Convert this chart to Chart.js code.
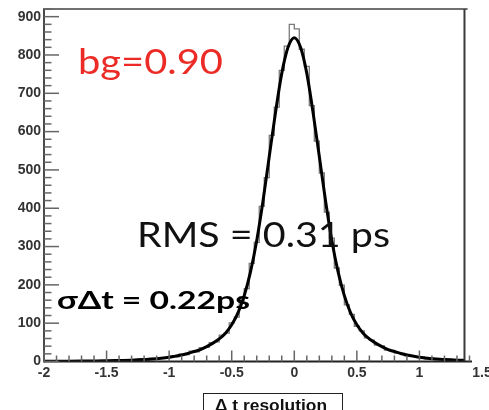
<!DOCTYPE html>
<html>
<head>
<meta charset="utf-8">
<script src="https://cdn.jsdelivr.net/npm/chart.js@4.4.1/dist/chart.umd.min.js"></script>
<style>
  html, body { margin: 0; padding: 0; background: #fff; }
  canvas { display: block; background: #fff; }
</style>
</head>
<body>
<canvas id="c" width="489" height="410"></canvas>
<script>
// Δt resolution histogram: 0.04-wide bins starting at -2
const binStart = -2;
const binWidth = 0.04;
const counts = [
  0, 1, 0, 1, 0, 2, 1, 0, 1, 2,
  1, 3, 1, 2, 4, 2, 3, 5, 3, 6,
  4, 8, 6, 10, 9, 14, 12, 19, 18, 27,
  25, 36, 37, 49, 51, 69, 74, 101, 116, 158,
  190, 256, 311, 405, 480, 590, 664, 760, 823, 880,
  868, 815, 770, 668, 575, 492, 390, 322, 244, 199,
  148, 123, 92, 80, 62, 56, 43, 41, 30, 29,
  22, 21, 15, 16, 11, 12, 7, 8, 5, 6,
  3, 4, 2, 4
];

// fitted resolution function
const fitX = [
  -2.0, -1.9, -1.8, -1.7, -1.6, -1.5, -1.4, -1.3, -1.2, -1.1,
  -1.0, -0.95, -0.9, -0.85, -0.8, -0.75, -0.7, -0.65, -0.6, -0.55,
  -0.5, -0.45, -0.4, -0.35, -0.3, -0.25, -0.2, -0.15, -0.1, -0.05,
  0,
  0.05, 0.1, 0.15, 0.2, 0.25, 0.3, 0.35, 0.4, 0.45, 0.5,
  0.55, 0.6, 0.65, 0.7, 0.75, 0.8, 0.85, 0.9, 0.95, 1.0,
  1.1, 1.2, 1.3, 1.36
];
const fitY = [
  0.4, 0.6, 0.8, 1.05, 1.35, 1.7, 2.5, 3.4, 5, 7.2,
  11, 14, 17, 21, 26, 31, 39, 48, 59, 74,
  96, 127, 172, 234, 316, 419, 535, 650, 752, 820,
  845,
  820, 752, 650, 535, 419, 316, 234, 172, 127, 96,
  74, 59, 48, 39, 31, 26, 21, 17, 14, 11,
  7.2, 5, 3.4, 3
];

const xTicks = [-2, -1.5, -1, -0.5, 0, 0.5, 1, 1.5];
const yTicks = [0, 100, 200, 300, 400, 500, 600, 700, 800, 900];
const xMinorStep = 0.1;
const yMinorStep = 20;

// frame extents (axis units)
const xAxisEnd = 1.42;
const frameRight = 1.36;
const frameTopEnd = 1.385;

const histPoints = counts.map((v, i) => ({ x: Math.round((binStart + i * binWidth) * 100) / 100, y: v }));
histPoints.push({ x: Math.round((binStart + counts.length * binWidth) * 100) / 100, y: counts[counts.length - 1] });
const fitPoints = fitX.map((v, i) => ({ x: v, y: fitY[i] }));

function seg(ctx, x1, y1, x2, y2) {
  ctx.beginPath(); ctx.moveTo(x1, y1); ctx.lineTo(x2, y2); ctx.stroke();
}

// ROOT-style frame with inward ticks
const framePlugin = {
  id: 'frame',
  afterDatasetsDraw(chart) {
    const { ctx, chartArea } = chart;
    const xs = chart.scales.x, ys = chart.scales.y;
    const left = xs.getPixelForValue(-2);
    const base = ys.getPixelForValue(0);
    const top = chartArea.top;
    ctx.save();
    ctx.lineCap = 'butt';
    ctx.strokeStyle = '#707070'; ctx.lineWidth = 2;
    seg(ctx, left - 1, top, xs.getPixelForValue(frameTopEnd), top);
    ctx.strokeStyle = '#3a3a3a'; ctx.lineWidth = 2;
    seg(ctx, xs.getPixelForValue(frameRight), top, xs.getPixelForValue(frameRight), base);
    ctx.strokeStyle = '#4a4a4a'; ctx.lineWidth = 2;
    seg(ctx, left, base + 1, left, top);
    ctx.strokeStyle = '#222'; ctx.lineWidth = 2;
    seg(ctx, left, base, xs.getPixelForValue(xAxisEnd), base);

    ctx.strokeStyle = '#666'; ctx.lineWidth = 1.5;
    // y ticks
    for (let v = 0; v <= 920; v += yMinorStep) {
      const p = ys.getPixelForValue(v);
      const major = yTicks.includes(v);
      seg(ctx, left, p, left + (major ? 15 : 7.5), p);
    }
    // x ticks
    for (let k = 0; ; k++) {
      const v = Math.round((xTicks[0] + k * xMinorStep) * 100) / 100;
      if (v > xAxisEnd) break;
      const p = xs.getPixelForValue(v);
      const major = xTicks.includes(v);
      seg(ctx, p, base, p, base - (major ? 11 : 6));
    }
    ctx.restore();
  }
};

function fitText(ctx, text, x, y, font, color, width) {
  ctx.save();
  ctx.font = font;
  ctx.fillStyle = color;
  ctx.textBaseline = 'alphabetic';
  ctx.textAlign = 'left';
  const w = ctx.measureText(text).width;
  ctx.translate(x, y);
  ctx.scale(width / w, 1);
  ctx.fillText(text, 0, 0);
  ctx.restore();
}

const notesPlugin = {
  id: 'notes',
  afterDraw(chart) {
    const ctx = chart.ctx;
    fitText(ctx, 'bg=0.90', 78, 73.5, '34px Lato, "Open Sans", sans-serif', '#ec2b26', 145);
    fitText(ctx, 'RMS = 0.31 ps', 137, 247, '35px Lato, "Open Sans", sans-serif', '#111', 253);
    fitText(ctx, 'σΔt = 0.22ps', 57, 309, 'bold 25px Lato, "Open Sans", sans-serif', '#000', 193);
    ctx.save();
    ctx.strokeStyle = '#222'; ctx.lineWidth = 1;
    ctx.strokeRect(203.5, 393.5, 139, 30);
    ctx.restore();
    fitText(ctx, 'Δ t resolution', 215, 411, 'bold 17px "Liberation Sans", Arial, sans-serif', '#111', 112);
  }
};

const tickFont = { family: '"Liberation Sans", Arial, sans-serif', weight: 'bold', size: 14 };

new Chart(document.getElementById('c'), {
  type: 'line',
  data: {
    datasets: [
      {
        label: 'fit',
        data: fitPoints,
        borderColor: '#000',
        borderWidth: 3,
        pointRadius: 0,
        cubicInterpolationMode: 'monotone',
        fill: false,
        order: 0
      },
      {
        label: 'Δt',
        data: histPoints,
        stepped: 'before',
        borderColor: '#7a7a7a',
        borderWidth: 1.3,
        pointRadius: 0,
        fill: false,
        order: 1
      }
    ]
  },
  options: {
    responsive: false,
    animation: false,
    events: [],
    layout: { padding: { top: 9, right: 7, left: 0, bottom: 0 } },
    plugins: { legend: { display: false }, tooltip: { enabled: false } },
    scales: {
      x: {
        type: 'linear',
        min: -2,
        max: 1.5,
        grid: { display: false, drawTicks: false },
        border: { display: false },
        afterBuildTicks: s => { s.ticks = xTicks.map(v => ({ value: v })); },
        afterFit: s => { s.height = 48.5; s.paddingLeft = 0; s.paddingRight = 0; },
        ticks: { font: tickFont, color: '#333', padding: 3, maxRotation: 0, autoSkip: false, callback: v => String(v) }
      },
      y: {
        type: 'linear',
        min: 0,
        max: 920,
        grid: { display: false, drawTicks: false },
        border: { display: false },
        afterBuildTicks: s => { s.ticks = yTicks.map(v => ({ value: v })); },
        afterFit: s => { s.width = 44; s.paddingTop = 0; s.paddingBottom = 0; },
        ticks: { font: tickFont, color: '#333', padding: 3, autoSkip: false, callback: v => String(v) }
      }
    }
  },
  plugins: [framePlugin, notesPlugin]
});
</script>
</body>
</html>
